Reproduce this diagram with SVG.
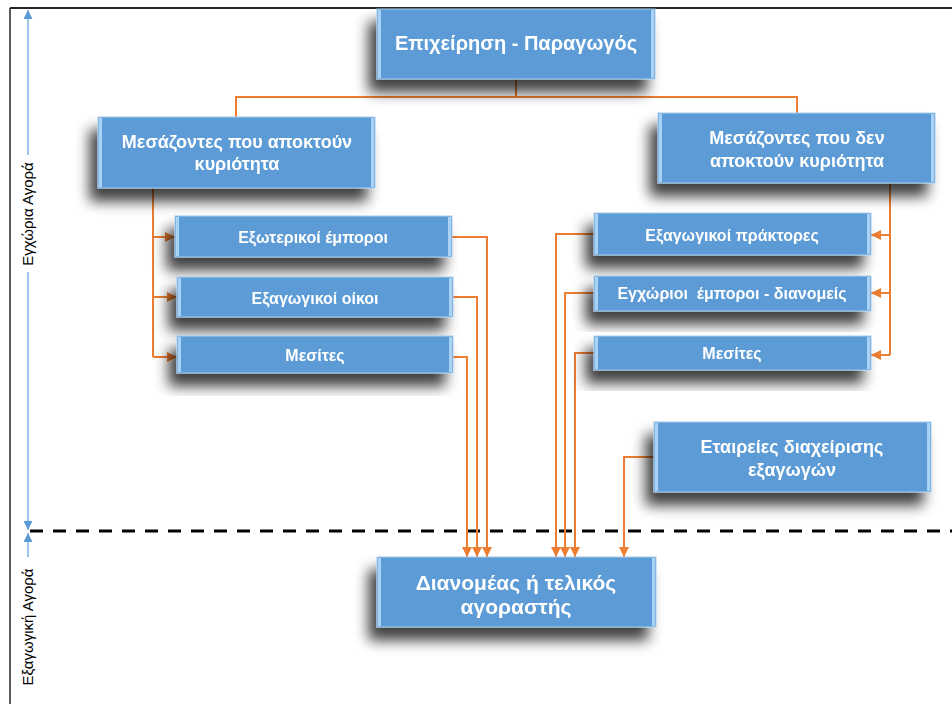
<svg xmlns="http://www.w3.org/2000/svg" width="952" height="704" viewBox="0 0 952 704">
<defs>
<style>
.box{fill:#5B9BD5;stroke:#A9CDEE;stroke-width:1}
.edge{fill:#A9D2F5}
.t{font-family:"Liberation Sans",Arial,sans-serif;font-weight:bold;fill:#FFFFFF;text-anchor:middle}
.conn{fill:none;stroke:#ED7D31;stroke-width:2}
.axis{fill:none;stroke:#7FB2E5;stroke-width:1.5}
.side{font-family:"Liberation Sans",Arial,sans-serif;font-size:15px;fill:#000;text-anchor:middle}
</style>
<filter id="sh" x="-20%" y="-40%" width="140%" height="200%">
<feGaussianBlur in="SourceAlpha" stdDeviation="7"/>
<feOffset dx="-8" dy="13" result="b"/>
<feComponentTransfer><feFuncA type="linear" slope="0.75"/></feComponentTransfer>
<feMerge><feMergeNode/><feMergeNode in="SourceGraphic"/></feMerge>
</filter>
<marker id="ar" viewBox="0 0 10 10" refX="10" refY="5" markerWidth="5" markerHeight="5" orient="auto" markerUnits="strokeWidth">
<path d="M0,0 L10,5 L0,10 z" fill="#ED7D31"/>
</marker>
<marker id="ab" viewBox="0 0 10 10" refX="10" refY="5" markerWidth="6" markerHeight="6" orient="auto" markerUnits="strokeWidth">
<path d="M0,0 L10,5 L0,10 z" fill="#5B9BD5"/>
</marker>
</defs>
<rect width="952" height="704" fill="#FFFFFF"/>
<!-- frame -->
<line x1="10" y1="8" x2="952" y2="8" stroke="#262626" stroke-width="2"/>
<line x1="10" y1="8" x2="10" y2="704" stroke="#262626" stroke-width="1.5"/>
<!-- dashed boundary -->
<line x1="30" y1="531" x2="952" y2="531" stroke="#000" stroke-width="3" stroke-dasharray="13,10"/>
<!-- side axis -->
<g id="axis">
<line class="axis" x1="28" y1="155" x2="28" y2="10" marker-end="url(#ab)"/>
<line class="axis" x1="28" y1="272" x2="28" y2="530" marker-end="url(#ab)"/>
<line class="axis" x1="28" y1="557" x2="28" y2="533" marker-end="url(#ab)"/>
<text class="side" transform="translate(33,214) rotate(-90)">Εγχώρια Αγορά</text>
<text class="side" transform="translate(33,627) rotate(-90)">Εξαγωγική Αγορά</text>
</g>
<!-- connectors -->
<g id="connectors">
<path class="conn" d="M516,79 V97 H236 V117"/>
<path class="conn" d="M516,97 H797 V113"/>
<path class="conn" d="M153,188 V357"/>
<path class="conn" d="M153,237 H175" marker-end="url(#ar)"/>
<path class="conn" d="M153,297 H177" marker-end="url(#ar)"/>
<path class="conn" d="M153,357 H177" marker-end="url(#ar)"/>
<path class="conn" d="M890,183 V355"/>
<path class="conn" d="M890,235 H871" marker-end="url(#ar)"/>
<path class="conn" d="M890,293 H871" marker-end="url(#ar)"/>
<path class="conn" d="M890,355 H871" marker-end="url(#ar)"/>
<path class="conn" d="M452,237 H487 V557" marker-end="url(#ar)"/>
<path class="conn" d="M453,297 H477 V557" marker-end="url(#ar)"/>
<path class="conn" d="M453,357 H467 V557" marker-end="url(#ar)"/>
<path class="conn" d="M594,234 H556 V557" marker-end="url(#ar)"/>
<path class="conn" d="M594,293 H565 V557" marker-end="url(#ar)"/>
<path class="conn" d="M594,353 H575 V557" marker-end="url(#ar)"/>
<path class="conn" d="M654,457 H624 V557" marker-end="url(#ar)"/>
</g>
<!-- nodes -->
<g id="n-top" filter="url(#sh)">
<rect class="box" x="377" y="9" width="278" height="70"/>
<rect class="edge" x="378" y="10" width="3" height="68"/><rect class="edge" x="651" y="10" width="3" height="68"/>
<text class="t" x="516" y="50" font-size="20">Επιχείρηση - Παραγωγός</text>
</g>
<g id="n-own" filter="url(#sh)">
<rect class="box" x="98" y="117" width="277" height="71"/>
<rect class="edge" x="99" y="118" width="3" height="69"/><rect class="edge" x="371" y="118" width="3" height="69"/>
<text class="t" x="237" y="148" font-size="18">Μεσάζοντες που αποκτούν</text>
<text class="t" x="237" y="170" font-size="18">κυριότητα</text>
</g>
<g id="n-notown" filter="url(#sh)">
<rect class="box" x="658" y="113" width="277" height="70"/>
<rect class="edge" x="659" y="114" width="3" height="68"/><rect class="edge" x="931" y="114" width="3" height="68"/>
<text class="t" x="797" y="144" font-size="18">Μεσάζοντες που δεν</text>
<text class="t" x="797" y="167" font-size="18">αποκτούν κυριότητα</text>
</g>
<g id="n-ext" filter="url(#sh)">
<rect class="box" x="175" y="216" width="277" height="41"/>
<rect class="edge" x="176" y="217" width="3" height="39"/><rect class="edge" x="448" y="217" width="3" height="39"/>
<text class="t" x="313" y="243" font-size="16">Εξωτερικοί έμποροι</text>
</g>
<g id="n-houses" filter="url(#sh)">
<rect class="box" x="177" y="277" width="276" height="40"/>
<rect class="edge" x="178" y="278" width="3" height="38"/><rect class="edge" x="449" y="278" width="3" height="38"/>
<text class="t" x="315" y="304" font-size="16">Εξαγωγικοί οίκοι</text>
</g>
<g id="n-brokers-l" filter="url(#sh)">
<rect class="box" x="177" y="336" width="276" height="37"/>
<rect class="edge" x="178" y="337" width="3" height="35"/><rect class="edge" x="449" y="337" width="3" height="35"/>
<text class="t" x="315" y="361" font-size="16">Μεσίτες</text>
</g>
<g id="n-agents" filter="url(#sh)">
<rect class="box" x="594" y="213" width="277" height="42"/>
<rect class="edge" x="595" y="214" width="3" height="40"/><rect class="edge" x="867" y="214" width="3" height="40"/>
<text class="t" x="732" y="241" font-size="16">Εξαγωγικοί πράκτορες</text>
</g>
<g id="n-domestic" filter="url(#sh)">
<rect class="box" x="594" y="276" width="277" height="35"/>
<rect class="edge" x="595" y="277" width="3" height="33"/><rect class="edge" x="867" y="277" width="3" height="33"/>
<text class="t" x="732" y="299" font-size="16" xml:space="preserve">Εγχώριοι  έμποροι - διανομείς</text>
</g>
<g id="n-brokers-r" filter="url(#sh)">
<rect class="box" x="594" y="336" width="277" height="34"/>
<rect class="edge" x="595" y="337" width="3" height="32"/><rect class="edge" x="867" y="337" width="3" height="32"/>
<text class="t" x="732" y="359" font-size="16">Μεσίτες</text>
</g>
<g id="n-emc" filter="url(#sh)">
<rect class="box" x="654" y="422" width="277" height="70"/>
<rect class="edge" x="655" y="423" width="3" height="68"/><rect class="edge" x="927" y="423" width="3" height="68"/>
<text class="t" x="792" y="453" font-size="18">Εταιρείες διαχείρισης</text>
<text class="t" x="792" y="476" font-size="18">εξαγωγών</text>
</g>
<g id="n-buyer" filter="url(#sh)">
<rect class="box" x="377" y="557" width="279" height="70"/>
<rect class="edge" x="378" y="558" width="3" height="68"/><rect class="edge" x="652" y="558" width="3" height="68"/>
<text class="t" x="516" y="590" font-size="21">Διανομέας ή τελικός</text>
<text class="t" x="516" y="614" font-size="21">αγοραστής</text>
</g>
</svg>
